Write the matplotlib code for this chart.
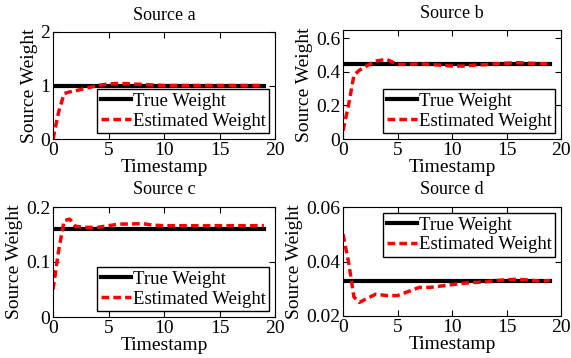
import matplotlib
matplotlib.use("Agg")
import matplotlib.pyplot as plt

plt.rcParams["font.family"] = ["Liberation Serif", "DejaVu Serif"]
plt.rcParams["mathtext.fontset"] = "stix"

# timestamps shared by all estimated curves
t_est = [0, 0.5, 1, 1.5, 2, 3, 4, 5, 6, 7, 8, 9, 10, 11, 12, 13, 14, 15, 16, 17, 18, 19]
t_true = [0, 19]

titles = ["Source a", "Source b", "Source c", "Source d"]
true_w = [1.0, 0.445, 0.16, 0.033]

est_a = [0.0, 0.5, 0.85, 0.88, 0.9, 0.95, 1.0, 1.03, 1.04, 1.03, 1.02, 1.01, 1.0,
         1.0, 1.0, 1.0, 1.0, 1.0, 1.0, 1.0, 1.0, 1.0]
est_b = [0.05, 0.2, 0.38, 0.41, 0.43, 0.465, 0.475, 0.445, 0.445, 0.448, 0.445, 0.44,
         0.435, 0.435, 0.44, 0.443, 0.448, 0.452, 0.455, 0.452, 0.45, 0.447]
est_c = [0.05, 0.12, 0.175, 0.178, 0.165, 0.163, 0.163, 0.166, 0.169, 0.169, 0.17, 0.167,
         0.166, 0.166, 0.166, 0.166, 0.166, 0.166, 0.166, 0.166, 0.166, 0.166]
est_d = [0.05, 0.04, 0.027, 0.025, 0.026, 0.028, 0.0275, 0.0275, 0.029, 0.0305, 0.0305, 0.031,
         0.0315, 0.032, 0.0323, 0.0325, 0.033, 0.0333, 0.0335, 0.0332, 0.0328, 0.033]
estimates = [est_a, est_b, est_c, est_d]

ylims = [(0, 2), (0, 0.65), (0, 0.2), (0.02, 0.06)]
yticks = [[0, 1, 2], [0, 0.2, 0.4, 0.6], [0, 0.1, 0.2], [0.02, 0.04, 0.06]]
ytick_labels = [["0", "1", "2"], ["0", "0.2", "0.4", "0.6"], ["0", "0.1", "0.2"],
                ["0.02", "0.04", "0.06"]]
legend_loc = ["lower right", "lower right", "lower right", "upper right"]

W, H = 571, 358
boxes = [(53, 32, 275, 139), (343, 30, 561, 139), (53, 207, 275, 317), (343, 207, 561, 316)]

fig = plt.figure(figsize=(W / 100, H / 100), dpi=100)
for i, (x0, y0, x1, y1) in enumerate(boxes):
    ax = fig.add_axes([x0 / W, (H - y1) / H, (x1 - x0) / W, (y1 - y0) / H])
    ax.plot(t_true, [true_w[i]] * 2, color="black", lw=3, label="True Weight")
    ax.plot(t_est, estimates[i], color="red", lw=2.5, ls=(0, (2.2, 1.2)), label="Estimated Weight")
    ax.set_xlim(0, 20)
    ax.set_ylim(*ylims[i])
    ax.set_xticks([0, 5, 10, 15, 20])
    ax.set_yticks(yticks[i])
    ax.set_yticklabels(ytick_labels[i])
    ax.tick_params(direction="in", top=True, right=True, labelsize=14, pad=2, length=4)
    ax.set_xlabel("Timestamp", fontsize=14, labelpad=0)
    ax.set_ylabel("Source Weight", fontsize=14, labelpad=2)
    ax.set_title(titles[i], fontsize=13, pad=9)
    leg = ax.legend(loc=legend_loc[i], fontsize=13.5, fancybox=False, framealpha=1,
                    edgecolor="black", borderaxespad=0.3, handlelength=1.6,
                    handletextpad=0.1, borderpad=0.2, labelspacing=0.15)
    leg.get_frame().set_linewidth(1.0)

fig.savefig("out.png", dpi=100)
